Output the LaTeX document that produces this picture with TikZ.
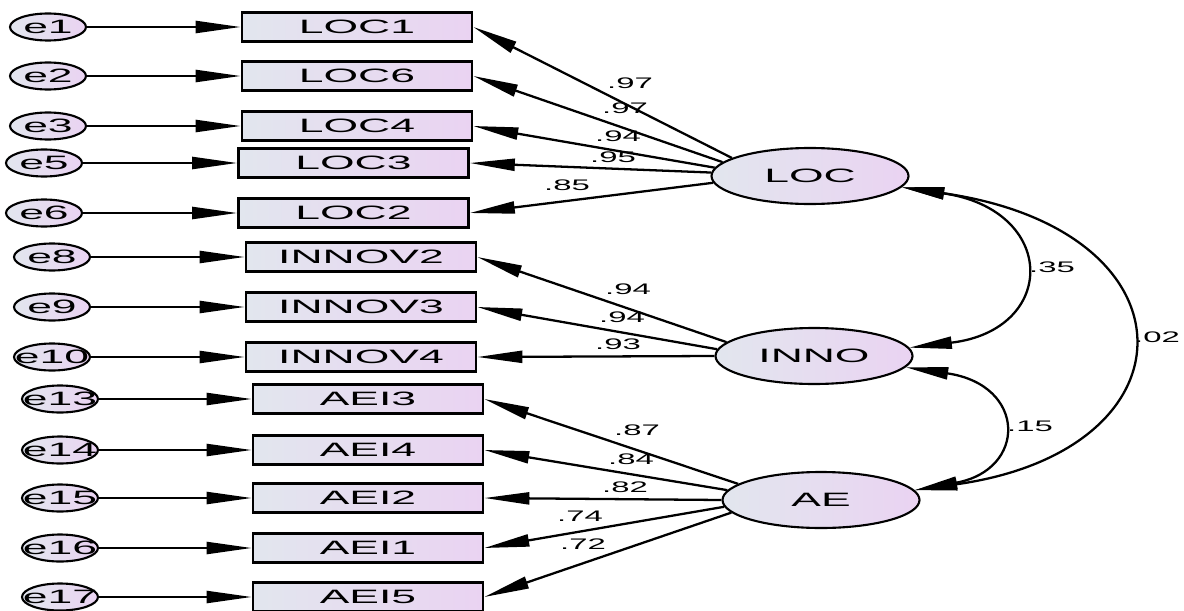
\documentclass[tikz,border=0pt]{standalone}
\usepackage{fontspec}
\setmainfont{Liberation Sans}
\usepackage{graphicx}
\usetikzlibrary{shapes,arrows.meta}

\definecolor{amosleft}{HTML}{E2E6EE}
\definecolor{amosright}{HTML}{EAD3F2}

% text is drawn wide, as in the AMOS output
\newcommand{\wide}[2][2.3]{\makebox[0pt]{\scalebox{#1}[1]{#2}}}

\tikzset{
  obs/.style={rectangle, draw, line width=1.5pt, minimum width=46mm, minimum height=5.8mm,
    inner sep=0pt, left color=amosleft, right color=amosright, font=\fontsize{11}{13}\selectfont},
  err/.style={ellipse, draw, line width=1.2pt, minimum width=15.2mm, minimum height=5.4mm,
    inner sep=0pt, left color=amosleft, right color=amosright, font=\fontsize{11}{13}\selectfont},
  lat/.style={ellipse, draw, line width=1.2pt, minimum width=39.4mm, minimum height=11.2mm,
    inner sep=0pt, left color=amosleft, right color=amosright, font=\fontsize{11}{13}\selectfont},
  arrowline/.style={line width=1.3pt, -{Triangle[length=9mm,width=2.4mm]}},
  covline/.style={line width=1.3pt, {Triangle[length=8.5mm,width=2.4mm]}-{Triangle[length=8.5mm,width=2.4mm]}},
  coef/.style={inner sep=0pt, font=\fontsize{8.7}{10}\selectfont},
}

\begin{document}
\begin{tikzpicture}[x=0.2mm, y=-0.2mm]
  \fill[white] (0,0) rectangle (1184,610);
  \useasboundingbox (0,0) rectangle (1184,610);

  % error terms and indicators
  \foreach \en/\vn/\ypos/\xe/\xv in {e1/LOC1/27/48/357, e2/LOC6/76/48/357, e3/LOC4/126/48/357,
      e5/LOC3/163/44/353.5, e6/LOC2/213/44/353.5,
      e8/INNOV2/257/52/361, e9/INNOV3/307/52/361, e10/INNOV4/357/52/361,
      e13/AEI3/399/60/368, e14/AEI4/450/60/368, e15/AEI2/498/60/368,
      e16/AEI1/548/60/368, e17/AEI5/597/60/368}
  {
    \node[err] (\en) at (\xe,\ypos) {\wide{\en}};
    \node[obs] (\vn) at (\xv,\ypos) {\wide{\vn}};
    \draw[arrowline] (\en) -- (\vn);
  }

  % latent factors
  \node[lat] (LOC) at (810,176) {\wide{LOC}};
  \node[lat] (INNO) at (814,356) {\wide{INNO}};
  \node[lat] (AE) at (821,500) {\wide{AE}};

  % loadings
  \foreach \fn/\ang/\vn/\wt/\lx/\ly in {LOC/167/LOC1/.97/630/83, LOC/171/LOC6/.97/625/108,
      LOC/175/LOC4/.94/618/136, LOC/178/LOC3/.95/613/157, LOC/184/LOC2/.85/567/185,
      INNO/171/INNOV2/.94/628/289, INNO/176/INNOV3/.94/622/317, INNO/180/INNOV4/.93/618/344,
      AE/169/AEI3/.87/637/430, AE/174/AEI4/.84/631/459, AE/180/AEI2/.82/625/487,
      AE/184/AEI1/.74/580/516, AE/188/AEI5/.72/583/544}
  {
    \draw[arrowline] (\fn.\ang) -- (\vn.east);
    \node[coef] (w-\vn) at (\lx,\ly) {\wide[2.15]{\wt}};
  }

  % correlations
  \draw[covline] (LOC.-7) .. controls (1058,210) and (1058,330) .. (INNO.5);
  \draw[covline] (LOC.-7) .. controls (1200,230) and (1200,450) .. (AE.6);
  \draw[covline] (INNO.-7) .. controls (1027,385) and (1027,470) .. (AE.6);
  \node[coef] (r-li) at (1052,267) {\wide[2.15]{.35}};
  \node[coef] (r-ia) at (1030,426) {\wide[2.15]{.15}};
  \node[coef] (r-la) at (1157,337) {\wide[2.15]{.02}};
\end{tikzpicture}
\end{document}
